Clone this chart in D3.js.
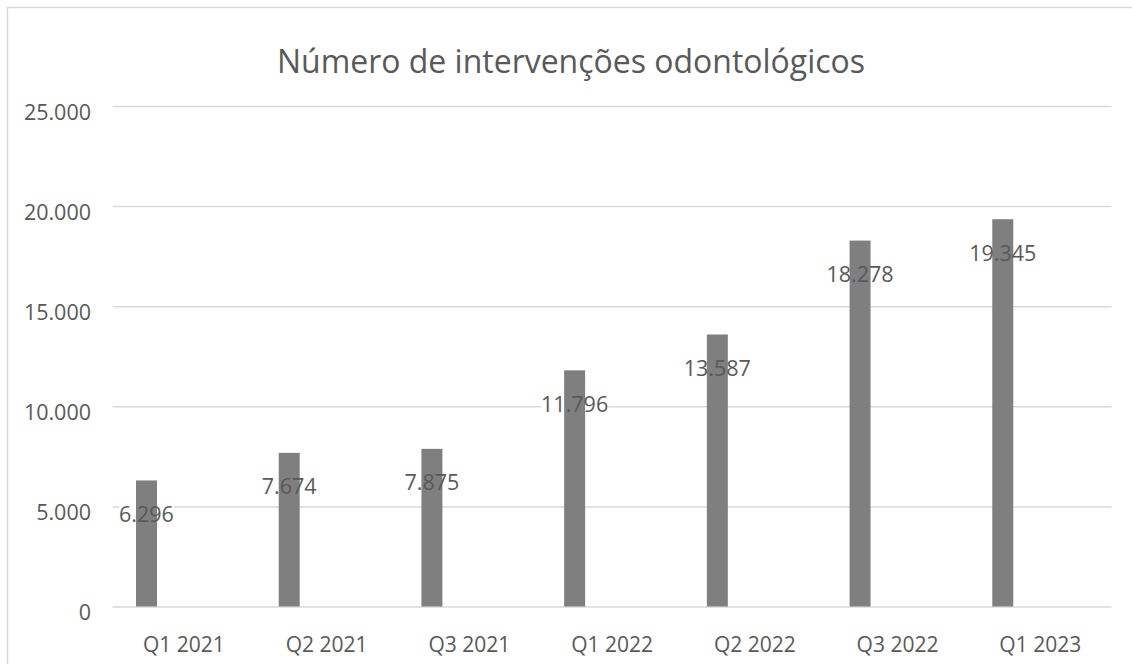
<!DOCTYPE html>
<html>
<head>
<meta charset="utf-8">
<script src="https://cdn.jsdelivr.net/npm/d3@7"></script>
<style>
  body { margin: 0; background: #fff; }
  text { font-family: "Open Sans", sans-serif; fill: #595959; }
</style>
</head>
<body>
<svg id="chart"></svg>
<script>
// dados
const trimestres = ["Q1 2021", "Q2 2021", "Q3 2021", "Q1 2022", "Q2 2022", "Q3 2022", "Q1 2023"];
const intervencoes = [6296, 7674, 7875, 11796, 13587, 18278, 19345];
const ticksY = [0, 5000, 10000, 15000, 20000, 25000];
const titulo = "Número de intervenções odontológicos";

const width = 1132, height = 664;
const fmt = v => d3.format(",")(v).replace(/,/g, ".");

const svg = d3.select("#chart").attr("width", width).attr("height", height);

// moldura
svg.append("rect")
  .attr("x", 7.5).attr("y", 7.5)
  .attr("width", width + 20).attr("height", height + 20)
  .attr("fill", "none").attr("stroke", "#d9d9d9").attr("stroke-width", 1.5);

const x = d3.scaleBand().domain(trimestres).range([112.6, 1111.6]).padding(0);
const y = d3.scaleLinear().domain([0, 25000]).range([606.5, 106]);

// camadas na ordem de desenho
const gGrade = svg.append("g");
const gFundo = svg.append("g");
const gBarras = svg.append("g");
const gRotulos = svg.append("g");

// titulo
svg.append("text")
  .attr("x", 571).attr("y", 72.7)
  .attr("text-anchor", "middle")
  .attr("font-size", 32)
  .attr("textLength", 588).attr("lengthAdjust", "spacingAndGlyphs")
  .text(titulo);

// linhas de grade
gGrade.attr("transform", "translate(112.6,0)")
  .call(d3.axisLeft(y).tickValues(ticksY).tickSize(-999).tickFormat(""))
  .call(g => g.select(".domain").remove())
  .call(g => g.selectAll("line").attr("stroke", "#d9d9d9").attr("stroke-width", 1.5));

// rótulos eixo Y
svg.append("g").selectAll("text")
  .data(ticksY).enter().append("text")
  .attr("x", 91).attr("y", d => y(d) + 6)
  .attr("dy", "0.35em")
  .attr("text-anchor", "end")
  .attr("font-size", 21.5)
  .text(fmt);

// rótulos eixo X
svg.append("g").selectAll("text")
  .data(trimestres).enter().append("text")
  .attr("x", d => x(d) + x.bandwidth() / 2)
  .attr("y", 652)
  .attr("text-anchor", "middle")
  .attr("font-size", 21)
  .text(d => d);

const dados = trimestres.map((t, i) => ({ t, v: intervencoes[i] }));
const barOff = x.bandwidth() * 0.164, barW = x.bandwidth() * 0.147;

gBarras.selectAll("rect")
  .data(dados).enter().append("rect")
  .attr("x", d => x(d.t) + barOff)
  .attr("width", barW)
  .attr("y", d => y(d.v))
  .attr("height", d => y(0) - y(d.v))
  .attr("fill", "#7f7f7f");

// rótulos de dados, com fundo branco que tapa só a grade
const rotulos = gRotulos.selectAll("text")
  .data(dados).enter().append("text")
  .attr("x", d => x(d.t) + barOff + barW / 2)
  .attr("y", d => y(d.v) + 34)
  .attr("dy", "0.35em")
  .attr("text-anchor", "middle")
  .attr("font-size", 21.5)
  .text(d => fmt(d.v));

rotulos.each(function () {
  const b = this.getBBox();
  gFundo.append("rect")
    .attr("x", b.x).attr("y", b.y + 4)
    .attr("width", b.width).attr("height", b.height - 8)
    .attr("fill", "#fff");
});
</script>
</body>
</html>
